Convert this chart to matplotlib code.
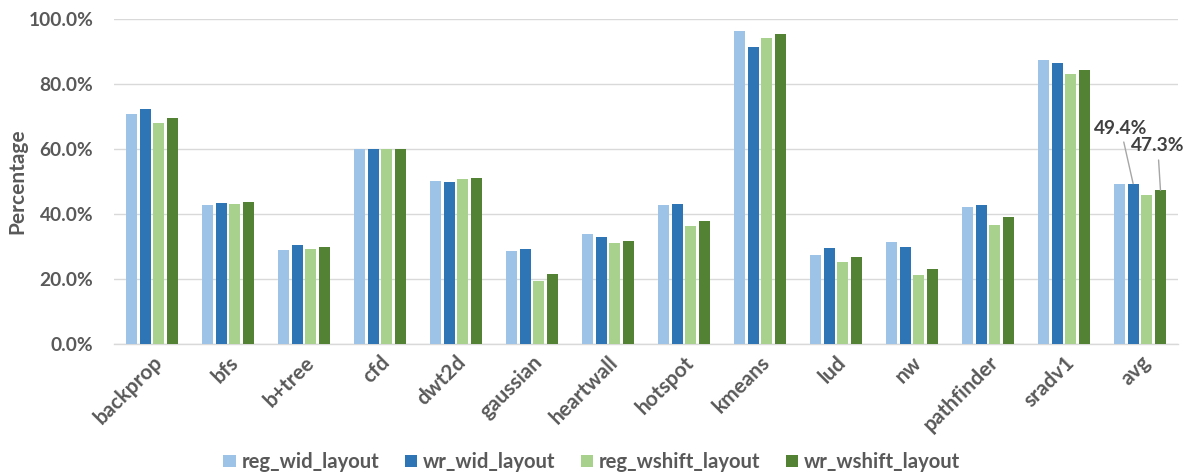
import numpy as np
import matplotlib
matplotlib.use("Agg")
import matplotlib.pyplot as plt
from matplotlib.ticker import PercentFormatter, MultipleLocator

plt.rcParams['font.family'] = ['Lato', 'DejaVu Sans']

benchmarks = ["backprop", "bfs", "b+tree", "cfd", "dwt2d", "gaussian", "heartwall",
              "hotspot", "kmeans", "lud", "nw", "pathfinder", "sradv1", "avg"]

reg_wid_layout = [70.9, 42.8, 29.0, 60.0, 50.1, 28.7, 33.8, 42.8, 96.5, 27.4, 31.4, 42.2, 87.4, 49.4]
wr_wid_layout = [72.4, 43.5, 30.5, 60.0, 49.9, 29.2, 32.9, 43.2, 91.6, 29.5, 29.8, 42.9, 86.5, 49.4]
reg_wshift_layout = [68.2, 43.2, 29.2, 59.9, 50.8, 19.5, 31.2, 36.2, 94.3, 25.1, 21.1, 36.7, 83.1, 45.9]
wr_wshift_layout = [69.6, 43.8, 29.8, 59.9, 51.1, 21.6, 31.8, 37.8, 95.4, 26.9, 23.1, 39.2, 84.4, 47.3]

series = [
    ("reg_wid_layout", reg_wid_layout, "#9DC3E6"),
    ("wr_wid_layout", wr_wid_layout, "#2E75B6"),
    ("reg_wshift_layout", reg_wshift_layout, "#A9D18E"),
    ("wr_wshift_layout", wr_wshift_layout, "#548235"),
]

text_color = "#595959"
grid_color = "#D9D9D9"

fig = plt.figure(figsize=(11.84, 4.75), dpi=100)
ax = fig.add_axes([0.0963, 0.2758, 0.8986, 0.6836])

x = np.arange(len(benchmarks))
slot = 0.18
width = 0.145
for i, (name, vals, color) in enumerate(series):
    ax.bar(x + (i - 1.5) * slot, vals, width, color=color, label=name,
           zorder=3, linewidth=0)

ax.set_xlim(-0.5, len(benchmarks) - 0.5)
ax.set_ylim(0, 100)
ax.yaxis.set_major_locator(MultipleLocator(20))
ax.yaxis.set_major_formatter(PercentFormatter(xmax=100, decimals=1))
ax.grid(axis="y", color=grid_color, linewidth=1.0, zorder=0)
ax.set_axisbelow(True)

for side in ("left", "right", "top"):
    ax.spines[side].set_visible(False)
ax.spines["bottom"].set_color(grid_color)
ax.spines["bottom"].set_linewidth(1.0)

ax.tick_params(axis="y", length=0, pad=15, labelsize=13.8, labelcolor=text_color)
ax.tick_params(axis="x", length=0, pad=6, labelsize=15, labelcolor=text_color)
for lbl in ax.get_yticklabels():
    lbl.set_fontweight("bold")

ax.set_xticks(x)
ax.set_xticklabels(benchmarks, rotation=45, ha="right", rotation_mode="anchor",
                   fontweight="bold")

fig.text(17 / 1184, 0.618, "Percentage", rotation=90, ha="center", va="center",
         fontsize=15, fontweight="bold", color=text_color)

# Callouts for the average bars
avg_idx = len(benchmarks) - 1
ax.annotate(f"{wr_wid_layout[avg_idx]:.1f}%",
            xy=(avg_idx - 0.5 * slot, wr_wid_layout[avg_idx]),
            xytext=(-9, 40), textcoords="offset points",
            ha="center", va="center", fontsize=13.8, fontweight="bold", color="#404040",
            arrowprops=dict(arrowstyle="-", color="#A6A6A6", lw=1.0,
                            shrinkA=2, shrinkB=0),
            annotation_clip=False, zorder=5)
ax.annotate(f"{wr_wshift_layout[avg_idx]:.1f}%",
            xy=(avg_idx + 1.5 * slot, wr_wshift_layout[avg_idx]),
            xytext=(-2, 32), textcoords="offset points",
            ha="center", va="center", fontsize=13.8, fontweight="bold", color="#404040",
            arrowprops=dict(arrowstyle="-", color="#A6A6A6", lw=1.0,
                            shrinkA=2, shrinkB=0),
            annotation_clip=False, zorder=5)

leg = fig.legend(loc="center", bbox_to_anchor=(0.5, 0.027), ncol=4, frameon=False,
                 handlelength=0.6, handleheight=0.6, handletextpad=0.3,
                 columnspacing=1.25, fontsize=14.6)
for t in leg.get_texts():
    t.set_color(text_color)
    t.set_fontweight("bold")

fig.savefig("out.png", dpi=100)
